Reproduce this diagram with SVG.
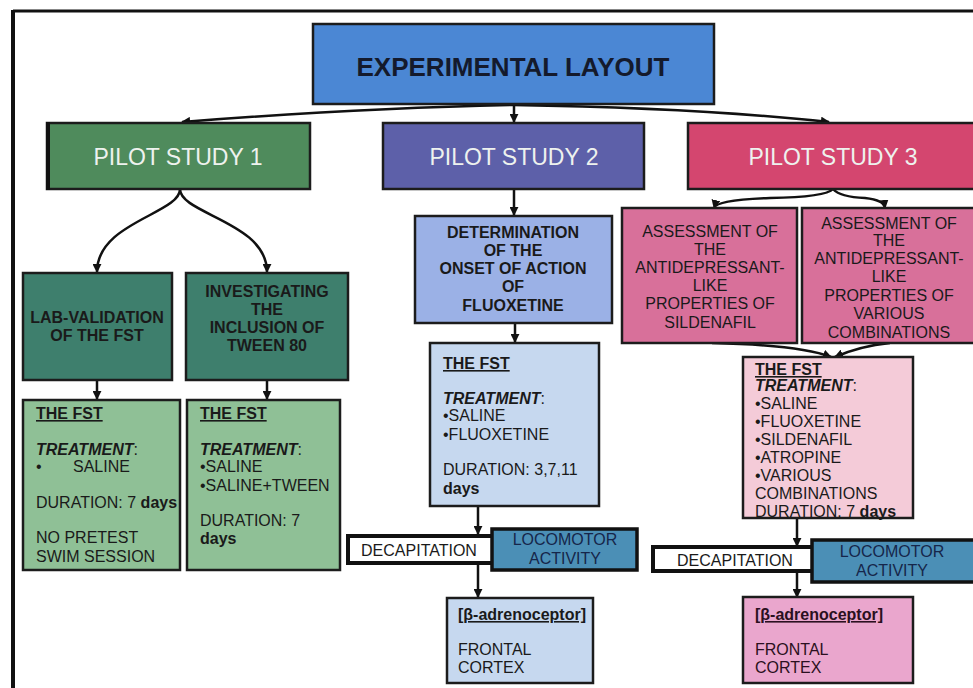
<svg xmlns="http://www.w3.org/2000/svg" width="973" height="688" viewBox="0 0 973 688">
<defs>
<marker id="ah" viewBox="0 0 10 10" refX="9" refY="5" markerWidth="9" markerHeight="9" markerUnits="userSpaceOnUse" orient="auto">
<path d="M0,0 L10,5 L0,10 z" fill="#111"/>
</marker>
<style>
.box{stroke:#1c1c1c;stroke-width:2.5}
.t{font-family:"Liberation Sans",Arial,sans-serif;font-size:16px;fill:#1a1a1a}
.b{font-weight:bold}
.c{text-anchor:middle}
.u{text-decoration:underline}
.i{font-style:italic;font-weight:bold}
.pilot{font-family:"Liberation Sans",Arial,sans-serif;font-size:23px;fill:#eef2ee;text-anchor:middle}
.conn{fill:none;stroke:#111;stroke-width:2.5;marker-end:url(#ah)}
</style>
</defs>
<rect x="0" y="0" width="973" height="688" fill="#ffffff"/>
<g id="frame">
<line x1="13" y1="11" x2="973" y2="11" stroke="#111" stroke-width="3"/>
<line x1="13" y1="10" x2="13" y2="688" stroke="#111" stroke-width="4"/>
</g>

<g id="connectors">
<path class="conn" d="M513,105 Q360,108 182,122"/>
<path class="conn" d="M514,105 L514,122"/>
<path class="conn" d="M513,105 Q700,108 829,122"/>
<path class="conn" d="M180,189 C180,214 97,222 97,272"/>
<path class="conn" d="M180,189 C180,214 267,222 267,272"/>
<path class="conn" d="M514,189 L514,215"/>
<path class="conn" d="M97,380 L97,399"/>
<path class="conn" d="M267,380 L267,399"/>
<path class="conn" d="M515,323 L515,342"/>
<path class="conn" d="M478,507 L478,534"/>
<path class="conn" d="M478,563 L478,597"/>
<path class="conn" d="M833,189 Q826,197 770,198 Q716,200 714,208"/>
<path class="conn" d="M833,189 Q840,197 865,198 Q884,200 885,208"/>
<path class="conn" d="M712,343 Q800,345 831,357"/>
<path class="conn" d="M890,343 Q860,346 835,357"/>
<path class="conn" d="M797,518 L797,546"/>
<path class="conn" d="M797,571 L797,597"/>
</g>

<g id="title">
<rect class="box" x="313" y="24" width="401" height="80" fill="#4b87d4" stroke-width="3.5"/>
<text x="513" y="76" class="t b c" style="font-size:26px;fill:#141a2c">EXPERIMENTAL LAYOUT</text>
</g>

<g id="pilot1">
<rect class="box" x="47" y="123" width="263" height="66" fill="#4f8b5c"/>
<rect x="46" y="122" width="4" height="68" fill="#111"/>
<text x="178" y="165" class="pilot">PILOT STUDY 1</text>
</g>
<g id="pilot2">
<rect class="box" x="383" y="123" width="261" height="66" fill="#5d60a9"/>
<text x="514" y="165" class="pilot">PILOT STUDY 2</text>
</g>
<g id="pilot3">
<rect class="box" x="688" y="123" width="292" height="66" fill="#d4466f"/>
<text x="833" y="165" class="pilot">PILOT STUDY 3</text>
</g>

<g id="labvalidation">
<rect class="box" x="23" y="273" width="149" height="107" fill="#3e7f6d"/>
<text x="97" y="323" class="t b c">LAB-VALIDATION</text>
<text x="97" y="341" class="t b c">OF THE FST</text>
</g>
<g id="tween">
<rect class="box" x="186" y="273" width="162" height="107" fill="#3e7f6d"/>
<text x="267" y="297" class="t b c">INVESTIGATING</text>
<text x="267" y="315" class="t b c">THE</text>
<text x="267" y="333" class="t b c">INCLUSION OF</text>
<text x="267" y="351" class="t b c">TWEEN 80</text>
</g>

<g id="fst1">
<rect class="box" x="23" y="400" width="157" height="170" fill="#8fc096"/>
<text x="36" y="419" class="t b u">THE FST</text>
<text x="36" y="455" class="t"><tspan class="i">TREATMENT</tspan>:</text>
<text x="36" y="472" class="t">•</text>
<text x="73" y="472" class="t">SALINE</text>
<text x="36" y="508" class="t">DURATION: 7 <tspan class="b">days</tspan></text>
<text x="36" y="543" class="t">NO PRETEST</text>
<text x="36" y="562" class="t">SWIM SESSION</text>
</g>
<g id="fst1b">
<rect class="box" x="187" y="400" width="153" height="170" fill="#8fc096"/>
<text x="200" y="419" class="t b u">THE FST</text>
<text x="200" y="455" class="t"><tspan class="i">TREATMENT</tspan>:</text>
<text x="200" y="472" class="t">•SALINE</text>
<text x="200" y="491" class="t">•SALINE+TWEEN</text>
<text x="200" y="526" class="t">DURATION: 7</text>
<text x="200" y="544" class="t b">days</text>
</g>

<g id="determination">
<rect class="box" x="415" y="216" width="197" height="107" fill="#9bb1e6"/>
<text x="513" y="238" class="t b c">DETERMINATION</text>
<text x="513" y="256" class="t b c">OF THE</text>
<text x="513" y="274" class="t b c">ONSET OF ACTION</text>
<text x="513" y="292" class="t b c">OF</text>
<text x="513" y="311" class="t b c">FLUOXETINE</text>
</g>
<g id="fst2">
<rect class="box" x="430" y="343" width="169" height="163" fill="#c6d8ef"/>
<text x="443" y="369" class="t b u">THE FST</text>
<text x="443" y="404" class="t"><tspan class="i">TREATMENT</tspan>:</text>
<text x="443" y="421" class="t">•SALINE</text>
<text x="443" y="440" class="t">•FLUOXETINE</text>
<text x="443" y="475" class="t">DURATION: 3,7,11</text>
<text x="443" y="494" class="t b">days</text>
</g>
<g id="decap1">
<rect x="348" y="536" width="145" height="27" fill="#ffffff" stroke="#111" stroke-width="4"/>
<text x="419" y="556" class="t c">DECAPITATION</text>
</g>
<g id="locomotor1">
<rect x="492" y="529" width="145" height="41" fill="#4b8fb6" stroke="#111" stroke-width="3.5"/>
<text x="565" y="545" class="t c" style="fill:#16264a">LOCOMOTOR</text>
<text x="565" y="564" class="t c" style="fill:#16264a">ACTIVITY</text>
</g>
<g id="beta1">
<rect class="box" x="447" y="598" width="146" height="85" fill="#c6d8ef"/>
<text x="458" y="620" class="t b u">[β-adrenoceptor]</text>
<text x="458" y="655" class="t">FRONTAL</text>
<text x="458" y="673" class="t">CORTEX</text>
</g>

<g id="assess1">
<rect class="box" x="622" y="208" width="175" height="135" fill="#d8709a"/>
<text x="710" y="237" class="t c">ASSESSMENT OF</text>
<text x="710" y="255" class="t c">THE</text>
<text x="710" y="273" class="t c">ANTIDEPRESSANT-</text>
<text x="710" y="291" class="t c">LIKE</text>
<text x="710" y="309" class="t c">PROPERTIES OF</text>
<text x="710" y="328" class="t c">SILDENAFIL</text>
</g>
<g id="assess2">
<rect class="box" x="802" y="208" width="178" height="135" fill="#d8709a"/>
<text x="889" y="229" class="t c">ASSESSMENT OF</text>
<text x="889" y="246" class="t c">THE</text>
<text x="889" y="264" class="t c">ANTIDEPRESSANT-</text>
<text x="889" y="282" class="t c">LIKE</text>
<text x="889" y="301" class="t c">PROPERTIES OF</text>
<text x="889" y="319" class="t c">VARIOUS</text>
<text x="889" y="338" class="t c">COMBINATIONS</text>
</g>
<g id="fst3">
<rect class="box" x="743" y="357" width="170" height="161" fill="#f4cbd8"/>
<text x="755" y="375" class="t b u">THE FST</text>
<text x="755" y="391" class="t"><tspan class="i">TREATMENT</tspan>:</text>
<text x="755" y="409" class="t">•SALINE</text>
<text x="755" y="427" class="t">•FLUOXETINE</text>
<text x="755" y="445" class="t">•SILDENAFIL</text>
<text x="755" y="463" class="t">•ATROPINE</text>
<text x="755" y="481" class="t">•VARIOUS</text>
<text x="755" y="499" class="t">COMBINATIONS</text>
<text x="755" y="517" class="t">DURATION: 7 <tspan class="b">days</tspan></text>
</g>
<g id="decap2">
<rect x="653" y="547" width="162" height="24" fill="#ffffff" stroke="#111" stroke-width="4"/>
<text x="735" y="566" class="t c">DECAPITATION</text>
</g>
<g id="locomotor2">
<rect x="812" y="540" width="168" height="42" fill="#4b8fb6" stroke="#111" stroke-width="3.5"/>
<text x="892" y="557" class="t c" style="fill:#16264a">LOCOMOTOR</text>
<text x="892" y="576" class="t c" style="fill:#16264a">ACTIVITY</text>
</g>
<g id="beta2">
<rect class="box" x="743" y="597" width="170" height="86" fill="#eaa6cd"/>
<text x="755" y="620" class="t b u" style="fill:#2a1020">[β-adrenoceptor]</text>
<text x="755" y="655" class="t" style="fill:#2a1020">FRONTAL</text>
<text x="755" y="673" class="t" style="fill:#2a1020">CORTEX</text>
</g>
</svg>
